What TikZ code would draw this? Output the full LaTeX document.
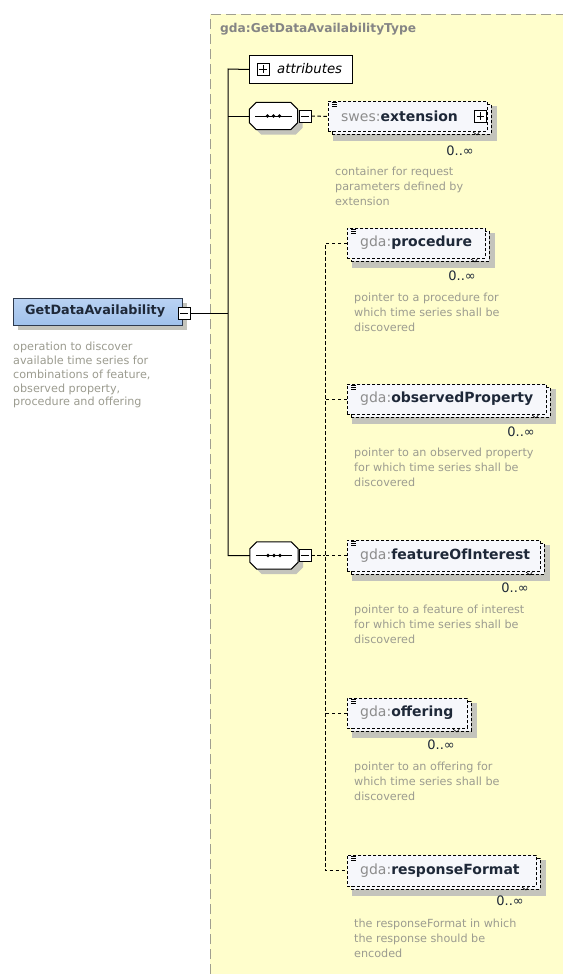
\documentclass[tikz,border=0pt]{standalone}
\usepackage{fontspec}
\setmainfont{DejaVu Sans}
\definecolor{bgyellow}{HTML}{FFFECC}
\definecolor{bordergray}{HTML}{A09F90}
\definecolor{titlegray}{HTML}{858585}
\definecolor{descgray}{HTML}{9C9C90}
\definecolor{namedark}{HTML}{1E2838}
\definecolor{prefgray}{HTML}{8C8C8C}
\definecolor{boxfill}{HTML}{F6F7FB}
\definecolor{shadowgray}{HTML}{C4C4BC}
\definecolor{roottop}{HTML}{B9D2F3}
\definecolor{rootbot}{HTML}{A0C1EB}
\definecolor{rootline}{HTML}{2E3A4E}
\tikzset{
 elemframe/.style={rectangle, draw=black, dash pattern=on 3pt off 2pt, line width=0.9pt, fill=boxfill, anchor=north west, inner sep=0pt},
 shadowbox/.style={rectangle, fill=shadowgray, draw=none, anchor=north west, inner sep=0pt},
 ename/.style={anchor=west, inner sep=0pt, font=\fontsize{14}{16}\selectfont},
 desc/.style={anchor=north west, align=left, inner sep=0pt, text=descgray, font=\fontsize{11.2}{14.8}\selectfont},
 mult/.style={anchor=east, inner sep=0pt, text=namedark, font=\fontsize{13}{14}\selectfont},
 pmbox/.style={rectangle, draw=black, fill=white, minimum size=12pt, inner sep=0pt, line width=0.7pt},
 tree/.style={draw=black, line width=1pt},
 opt/.style={draw=black, line width=1pt, dash pattern=on 3.5pt off 2.5pt},
 seqhull/.style={rectangle, minimum width=48pt, minimum height=27pt, inner sep=0pt, draw=none},
}
\newcommand\minusbox[2]{\node[pmbox] (#1) at #2 {};
 \draw[line width=0.7pt] ([xshift=2.5pt]#1.west) -- ([xshift=-2.5pt]#1.east);}
\newcommand\plusbox[2]{\node[pmbox] (#1) at #2 {};
 \draw[line width=0.7pt] ([xshift=2.5pt]#1.west) -- ([xshift=-2.5pt]#1.east)
   ([yshift=-2.5pt]#1.north) -- ([yshift=2.5pt]#1.south);}
\newcommand\octpath[1]{([xshift=7pt]#1.north west) -- ([xshift=-7pt]#1.north east) -- ([yshift=-7pt]#1.north east) -- ([yshift=7pt]#1.south east) -- ([xshift=-7pt]#1.south east) -- ([xshift=7pt]#1.south west) -- ([yshift=7pt]#1.south west) -- ([yshift=-7pt]#1.north west) -- cycle}
\newcommand\seqnode[2]{%
 \node[seqhull, xshift=5pt, yshift=-5pt] (#1sh) at #2 {};
 \fill[shadowgray] \octpath{#1sh};
 \node[seqhull] (#1) at #2 {};
 \draw[fill=white, line width=1pt] \octpath{#1};
 \draw[line width=1pt] ([xshift=6pt]#1.west) -- ([xshift=-6pt]#1.east);
 \fill ([xshift=-6pt]#1.center) circle (1.8pt) (#1.center) circle (1.8pt) ([xshift=6pt]#1.center) circle (1.8pt);}
\newcommand\xelem[7]{%
 \node[shadowbox, minimum width=#4pt+5pt, minimum height=#5pt+5pt] (#1sh) at (#2+5,#3+5) {};
 \node[elemframe, minimum width=#4pt, minimum height=#5pt] (#1bk) at (#2+4,#3+3) {};
 \node[elemframe, minimum width=#4pt, minimum height=#5pt] (#1) at (#2,#3) {};
 \node[ename] (#1txt) at (#2+13,#3+#5/2) {\textcolor{prefgray}{#6:}\textcolor{namedark}{\bfseries #7}};
 \draw[line width=0.6pt] (#2+4,#3+1.5) -- (#2+9,#3+1.5) (#2+4,#3+3.5) -- (#2+9,#3+3.5) (#2+4,#3+5.5) -- (#2+9,#3+5.5);
 \draw[line width=0.6pt] (#2+#4-14,#3+#5+1) -- (#2+#4-10,#3+#5+4) -- (#2+#4-7,#3+#5);}
\begin{document}
\begin{tikzpicture}[x=1pt,y=-1pt]
\useasboundingbox (0,0) rectangle (563,974);
\fill[white] (0,0) rectangle (563,974);
\fill[bgyellow] (210,14) rectangle (563,974);
\draw[bordergray, dash pattern=on 10pt off 5pt, line width=1.2pt] (210.5,974) -- (210.5,14.5) -- (563,14.5);
\node[anchor=west, inner sep=0pt, text=titlegray, font=\fontsize{12.2}{14}\selectfont\bfseries] (title) at (220,29) {gda:GetDataAvailabilityType};

% root element
\node[rectangle, fill=shadowgray, minimum width=169pt, minimum height=27pt, anchor=north west, inner sep=0pt] (rootsh) at (18,303) {};
\node[rectangle, draw=rootline, line width=1pt, top color=roottop, bottom color=rootbot, minimum width=169pt, minimum height=27pt, anchor=north west, inner sep=0pt] (root) at (13,298) {};
\node[anchor=west, inner sep=0pt, text=namedark, font=\fontsize{12.8}{14}\selectfont\bfseries] (roottxt) at (25,311.5) {GetDataAvailability};
\minusbox{rootm}{(184,313)}
\node[desc, font=\fontsize{11.2}{13.8}\selectfont] (rootdesc) at (13,342) {operation to discover\\available time series for\\combinations of feature,\\observed property,\\procedure and offering};

% attributes
\node[rectangle, draw=black, fill=white, line width=1pt, minimum width=103pt, minimum height=28pt, anchor=north west, inner sep=0pt] (attr) at (249,55) {};
\plusbox{attrp}{(263,69)}
\node[anchor=west, inner sep=0pt, font=\fontsize{13.3}{14}\selectfont\itshape] (attrtxt) at (277,69) {attributes};

% trunk
\coordinate (tA) at (228,69);
\coordinate (tB) at (228,555.5);

% sequence 1 + extension
\seqnode{s1}{(273.5,116)}
\minusbox{s1m}{(305,116)}
\xelem{ext}{328}{101}{159}{30}{swes}{extension}
\plusbox{extp}{(480.5,116)}
\node[mult] (extmult) at (474,151) {0..∞};
\node[desc] (extdesc) at (335,167) {container for request\\parameters defined by\\extension};

% sequence 2 + elements
\seqnode{s2}{(274,555.5)}
\minusbox{s2m}{(305,555.5)}
\coordinate (jn) at (325,555.5);

\xelem{proc}{347}{228}{138}{30}{gda}{procedure}
\node[mult] (procmult) at (476,276) {0..∞};
\node[desc] (procdesc) at (354,293) {pointer to a procedure for\\which time series shall be\\discovered};

\xelem{obs}{347}{384}{199}{30}{gda}{observedProperty}
\node[mult] (obsmult) at (535,432) {0..∞};
\node[desc] (obsdesc) at (354,448) {pointer to an observed property\\for which time series shall be\\discovered};

\xelem{foi}{347}{540}{193}{31}{gda}{featureOfInterest}
\node[mult] (foimult) at (529,588) {0..∞};
\node[desc] (foidesc) at (354,605) {pointer to a feature of interest\\for which time series shall be\\discovered};

\xelem{off}{347}{698}{120}{30}{gda}{offering}
\node[mult] (offmult) at (455,745) {0..∞};
\node[desc] (offdesc) at (354,762) {pointer to an offering for\\which time series shall be\\discovered};

\xelem{rf}{347}{855}{189}{31}{gda}{responseFormat}
\node[mult] (rfmult) at (524,901) {0..∞};
\node[desc] (rfdesc) at (354,919) {the responseFormat in which\\the response should be\\encoded};

% connectors
\draw[tree] (rootm.east) -- (rootm.east -| tA);
\draw[tree] (attr.west) -- (tA) -- (tB) -- (s2.west);
\draw[tree] (s1.west) -- (s1.west -| tA);
\draw[opt] (s1m.east) -- (ext.west);
\draw[opt] (s2m.east) -- (jn);
\draw[opt] (proc.west) -| (jn) |- (rf.west);
\draw[opt] (obs.west) -- (obs.west -| jn);
\draw[opt] (foi.west) -- (foi.west -| jn);
\draw[opt] (off.west) -- (off.west -| jn);
\end{tikzpicture}
\end{document}
